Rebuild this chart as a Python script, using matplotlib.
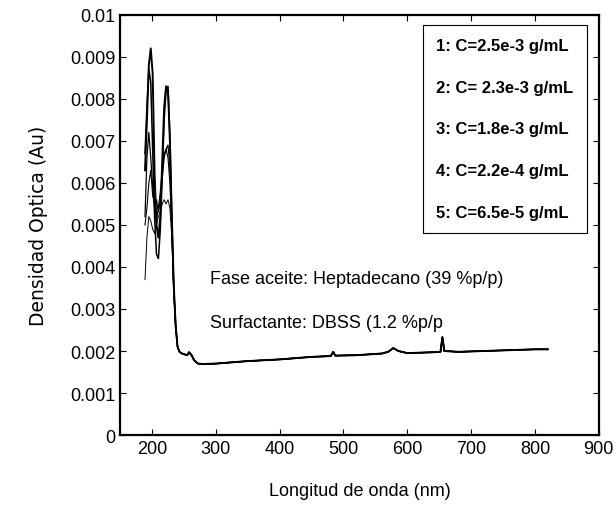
import numpy as np
import matplotlib
matplotlib.use("Agg")
import matplotlib.pyplot as plt

plt.rcParams['font.family'] = ['Liberation Sans', 'DejaVu Sans']

# peak region, one row per sample (nm / absorbance)
wl_peak = [189, 192, 195, 198, 201, 204, 207, 210, 213, 216, 219, 222, 225, 228, 231, 234]
peak_1 = [0.0063, 0.0075, 0.0088, 0.0092, 0.0086, 0.0062, 0.0050, 0.0047, 0.0052, 0.0065, 0.0078, 0.0083, 0.0082, 0.0070, 0.0052, 0.0036]
peak_2 = [0.0067, 0.0078, 0.0087, 0.0084, 0.0068, 0.0052, 0.0043, 0.0042, 0.0049, 0.0062, 0.0075, 0.0082, 0.0083, 0.0071, 0.0051, 0.0035]
peak_3 = [0.0052, 0.0066, 0.0072, 0.0066, 0.0059, 0.0054, 0.0056, 0.0053, 0.0056, 0.0061, 0.0066, 0.0068, 0.0069, 0.0064, 0.0050, 0.0035]
peak_4 = [0.0050, 0.0054, 0.0060, 0.0063, 0.0057, 0.0055, 0.0051, 0.0054, 0.0058, 0.0063, 0.0067, 0.0068, 0.0066, 0.0060, 0.0049, 0.0035]
peak_5 = [0.0037, 0.0047, 0.0052, 0.0051, 0.0049, 0.0048, 0.0050, 0.0052, 0.0053, 0.0055, 0.0056, 0.0055, 0.0056, 0.0054, 0.0047, 0.0034]

# common tail (all spectra overlap here)
wl_tail = [237, 240, 243, 247, 251, 255, 258, 262, 266, 272, 280, 300, 350, 400, 450, 480, 484, 487,
           520, 560, 570, 578, 586, 600, 640, 652, 655, 658, 680, 720, 760, 800, 820]
tail = [0.0026, 0.0021, 0.00198, 0.00194, 0.00192, 0.0019, 0.00197, 0.0019, 0.00178, 0.0017, 0.00169,
        0.0017, 0.00176, 0.0018, 0.00186, 0.00188, 0.00198, 0.00189, 0.0019, 0.00194, 0.00198, 0.00207,
        0.002, 0.00195, 0.00197, 0.00198, 0.00233, 0.002, 0.00198, 0.002, 0.00202, 0.00204, 0.00204]

labels = ['1: C=2.5e-3 g/mL', '2: C= 2.3e-3 g/mL', '3: C=1.8e-3 g/mL',
          '4: C=2.2e-4 g/mL', '5: C=6.5e-5 g/mL']
widths = [1.4, 1.1, 0.9, 0.8, 0.7]

fig = plt.figure(figsize=(6.16, 5.10), dpi=100)
ax = fig.add_axes([0.195, 0.145, 0.777, 0.824])

for p, lab, lw in zip([peak_1, peak_2, peak_3, peak_4, peak_5], labels, widths):
    ax.plot(wl_peak + wl_tail, p + tail, color='black', linewidth=lw, label=lab)

ax.set_xlim(150, 900)
ax.set_ylim(0, 0.01)
ax.set_xticks(np.arange(200, 901, 100))
ax.set_yticks(np.arange(0, 0.0101, 0.001))
ax.set_yticklabels(['0', '0.001', '0.002', '0.003', '0.004', '0.005', '0.006',
                    '0.007', '0.008', '0.009', '0.01'])
ax.tick_params(direction='in', top=True, right=True, labelsize=13, length=4, width=0.8)
for s in ax.spines.values():
    s.set_linewidth(1.6)

ax.set_xlabel('Longitud de onda (nm)', fontsize=13, labelpad=18)
ax.set_ylabel('Densidad Optica (Au)', fontsize=13.5, labelpad=16,
              family=['DejaVu Sans'])

ax.text(291, 0.00372, 'Fase aceite: Heptadecano (39 %p/p)', fontsize=13, va='center')
ax.text(291, 0.00268, 'Surfactante: DBSS (1.2 %p/p', fontsize=13, va='center')

leg = ax.legend(loc='upper right', handlelength=0, handletextpad=0, labelspacing=1.6,
                prop={'weight': 'bold', 'size': 12}, fancybox=False, framealpha=1,
                edgecolor='black', borderpad=0.8, bbox_to_anchor=(0.993, 0.996))
for h in leg.legend_handles:
    h.set_visible(False)
leg.get_frame().set_linewidth(0.8)

plt.savefig('out.png', dpi=100)
